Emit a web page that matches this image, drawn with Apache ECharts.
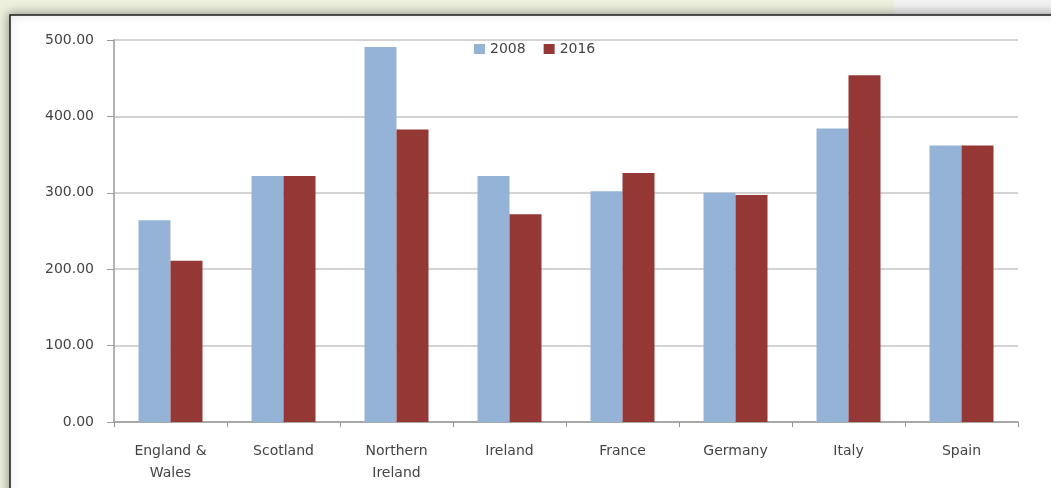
<!DOCTYPE html>
<html>
<head>
<meta charset="utf-8">
<script src="https://cdn.jsdelivr.net/npm/echarts@6/dist/echarts.min.js"></script>
<style>
html,body{margin:0;padding:0;background:#eef0de;}
#chart{width:1051px;height:488px;}
</style>
</head>
<body>
<div id="chart"></div>
<script>
const categories = ["England &\nWales", "Scotland", "Northern\nIreland", "Ireland", "France", "Germany", "Italy", "Spain"];
const values2008 = [264, 322, 491, 322, 302, 300, 384, 362];
const values2016 = [211, 322, 383, 272, 326, 297, 454, 362];
const seriesNames = ["2008", "2016"];
const yTicks = { min: 0, max: 500, interval: 100 };

const chart = echarts.init(document.getElementById('chart'), null, {renderer: 'canvas'});
const font = "'DejaVu Sans', sans-serif";
chart.setOption({
  backgroundColor: '#eef0de',
  animation: false,
  graphic: [
    { type: 'rect', z: -10, shape: { x: 894, y: 0, width: 157, height: 15 },
      style: { fill: '#f1f1f1' } },
    { type: 'rect', z: -9, shape: { x: 10, y: 15, width: 1060, height: 490 },
      style: { fill: '#ffffff', stroke: '#1a1a1a', lineWidth: 1.5,
               shadowBlur: 10, shadowColor: 'rgba(0,0,0,0.35)', shadowOffsetX: -1, shadowOffsetY: -1 } }
  ],
  legend: {
    data: seriesNames,
    top: 42,
    left: 474,
    padding: 0,
    itemWidth: 11,
    itemHeight: 10,
    itemGap: 18,
    icon: 'rect',
    textStyle: { color: '#444444', fontSize: 14, fontFamily: font }
  },
  grid: { left: 114, right: 33, top: 40, bottom: 66, containLabel: false },
  xAxis: {
    type: 'category',
    data: categories,
    axisLine: { lineStyle: { color: '#9a9a9a', width: 1.5 } },
    axisTick: { show: true, length: 5, lineStyle: { color: '#9a9a9a' } },
    axisLabel: { color: '#444444', fontSize: 14, fontFamily: font, margin: 18, lineHeight: 22, interval: 0 }
  },
  yAxis: {
    type: 'value',
    min: yTicks.min, max: yTicks.max, interval: yTicks.interval,
    axisLine: { show: true, lineStyle: { color: '#9a9a9a', width: 1.5 } },
    axisTick: { show: true, length: 7, lineStyle: { color: '#9a9a9a' } },
    splitLine: { lineStyle: { color: '#c4c4c4', width: 1.5 } },
    axisLabel: { color: '#444444', fontSize: 14, fontFamily: font, margin: 20,
                 formatter: v => v.toFixed(2) }
  },
  series: [
    { name: seriesNames[0], type: 'bar', data: values2008, barWidth: 32, barGap: '0%',
      itemStyle: { color: '#95b3d7' } },
    { name: seriesNames[1], type: 'bar', data: values2016, barWidth: 32, barGap: '0%',
      itemStyle: { color: '#953735' } }
  ]
});
</script>
</body>
</html>
